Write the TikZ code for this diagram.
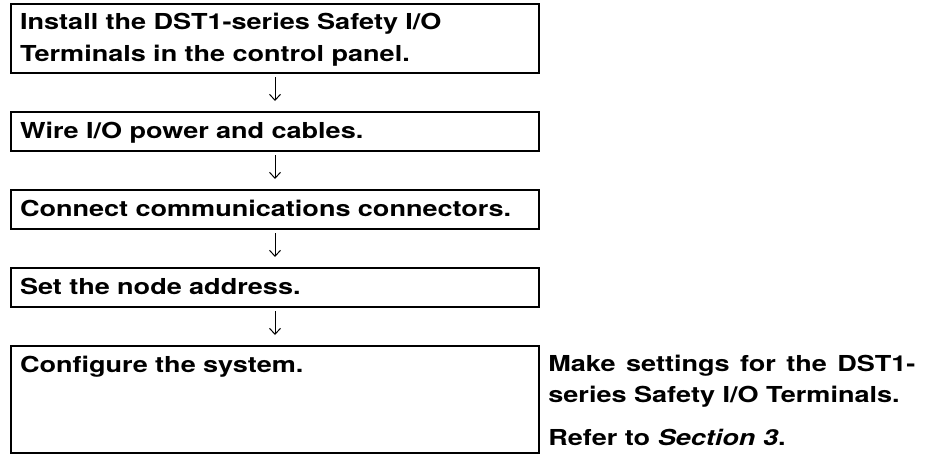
\documentclass[tikz,border=0pt]{standalone}
\usepackage{fontspec}
\setmainfont{TeX Gyre Heros}[FakeStretch=1.23]
\usepackage{tikz}
\usetikzlibrary{arrows.meta, positioning}

\begin{document}
\begin{tikzpicture}[
    font=\fontsize{11pt}{16pt}\selectfont\bfseries,
    baseBox/.style={
        rectangle,
        draw=black,
        line width=1pt,
        outer sep=0pt,
        inner xsep=4.5pt,
        inner ysep=0pt,
        text width=255pt,
        align=left,
        text height=13pt
    },
    stepbox/.style={baseBox, text depth=6.5pt},
    seta/.style={-{Straight Barb[length=3pt,width=5.5pt]}, line width=0.5pt, draw=black,
        shorten <=2pt, shorten >=5.5pt}
]
    \useasboundingbox (0,0) rectangle (464pt,-227.5pt);

    % --- 1. Steps ---
    \node[baseBox, text depth=21.5pt, anchor=north west] (install) at (5.5pt,-2pt)
        {Install the DST1-series Safety I/O\\Terminals in the control panel.};
    \node[stepbox, below=19.5pt of install] (wire) {Wire I/O power and cables.};
    \node[stepbox, below=19.5pt of wire] (connect) {Connect communications connectors.};
    \node[stepbox, below=19.5pt of connect] (address) {Set the node address.};
    \node[baseBox, text depth=40.5pt, below=19.5pt of address] (config) {Configure the system.};

    % --- 2. Note ---
    \node[anchor=north west, inner sep=0pt, text width=183.5pt, align=justify,
        text height=12.5pt, font=\fontsize{11pt}{15.5pt}\selectfont\bfseries,
        xshift=4.5pt] (note) at (config.north east)
        {Make settings for the DST1-\linebreak series Safety I/O Terminals.\par
         \vspace{6pt}Refer to \textit{Section 3}.};

    % --- Connections ---
    \draw[seta] (install.south) -- (wire.north);
    \draw[seta] (wire.south) -- (connect.north);
    \draw[seta] (connect.south) -- (address.north);
    \draw[seta] (address.south) -- (config.north);
\end{tikzpicture}
\end{document}
